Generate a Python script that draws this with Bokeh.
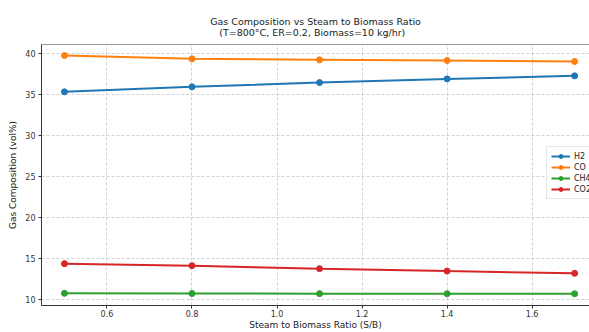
from bokeh.plotting import figure
from bokeh.models import Span, FixedTicker, Legend, LegendItem, NumeralTickFormatter
from bokeh.embed import file_html
from bokeh.resources import INLINE

sb_ratio = [0.5, 0.8, 1.1, 1.4, 1.7]
h2 = [35.28, 35.89, 36.41, 36.86, 37.23]
co = [39.7, 39.3, 39.18, 39.1, 38.98]
ch4 = [10.73, 10.71, 10.69, 10.68, 10.68]
co2 = [14.35, 14.1, 13.74, 13.45, 13.17]
series_names = ["H2", "CO", "CH4", "CO2"]
colors = ["#1f77b4", "#ff7f0e", "#2ca02c", "#d62728"]
x_ticks = [0.6, 0.8, 1.0, 1.2, 1.4, 1.6]
y_ticks = [10, 15, 20, 25, 30, 35, 40]
title_lines = ["Gas Composition vs Steam to Biomass Ratio",
               "(T=800°C, ER=0.2, Biomass=10 kg/hr)"]

FONT = "DejaVu Sans"

p = figure(width=589, height=332, output_backend="svg", toolbar_location=None,
           x_range=(0.446, 1.735), y_range=(9.25, 41.05),
           min_border_left=41, min_border_right=0, min_border_top=44, min_border_bottom=24)

# second line is centred under the first with non-breaking spaces
p.title.text = title_lines[0] + "\n" + "\u00a0\u00a0\u00a0" + title_lines[1]
p.title.align = "center"
p.title.text_font = FONT
p.title.text_font_size = "9.5px"
p.title.text_font_style = "normal"
p.title.text_color = "#222222"
p.title.offset = 5
p.title.standoff = 13

p.outline_line_color = None
p.background_fill_color = "white"
p.border_fill_color = "white"

top_spine = Span(location=41.05, dimension="width", line_color="#333333", line_width=1)
p.add_layout(top_spine)

for ax in (p.xaxis[0], p.yaxis[0]):
    ax.axis_line_color = "#333333"
    ax.axis_line_width = 1
    ax.major_tick_line_color = "#333333"
    ax.major_tick_out = 3
    ax.major_tick_in = 0
    ax.minor_tick_line_color = None
    ax.major_label_text_font = FONT
    ax.major_label_text_font_size = "8px"
    ax.major_label_text_color = "#333333"
    ax.major_label_standoff = 3
    ax.axis_label_text_font = FONT
    ax.axis_label_text_font_size = "9px"
    ax.axis_label_text_font_style = "normal"
    ax.axis_label_text_color = "#222222"

p.xaxis.ticker = FixedTicker(ticks=x_ticks)
p.yaxis.ticker = FixedTicker(ticks=y_ticks)
p.xaxis.formatter = NumeralTickFormatter(format="0.0")
p.xaxis.axis_label = "Steam to Biomass Ratio (S/B)"
p.yaxis.axis_label = "Gas Composition (vol%)"
p.xaxis.major_label_standoff = 1
p.xaxis.axis_label_standoff = 0
p.yaxis.axis_label_standoff = 4

p.grid.grid_line_color = "#b0b0b0"
p.grid.grid_line_dash = "3 2"
p.grid.grid_line_alpha = 0.7
p.grid.grid_line_width = 0.8

items = []
for name, vals, c in zip(series_names, [h2, co, ch4, co2], colors):
    r1 = p.line(sb_ratio, vals, line_color=c, line_width=2)
    r2 = p.scatter(sb_ratio, vals, size=6, fill_color=c, line_color=c)
    items.append(LegendItem(label=name, renderers=[r1, r2]))

legend = Legend(items=items, location=(505, 106))
legend.label_text_font = FONT
legend.label_text_font_size = "8px"
legend.label_text_color = "#222222"
legend.glyph_width = 19
legend.glyph_height = 10
legend.label_height = 10
legend.spacing = 1
legend.padding = 4
legend.margin = 0
legend.label_standoff = 4
legend.border_line_color = "#cccccc"
legend.border_line_width = 1
legend.background_fill_alpha = 0.8
p.add_layout(legend)

open("out.html", "w").write(file_html(p, INLINE))
